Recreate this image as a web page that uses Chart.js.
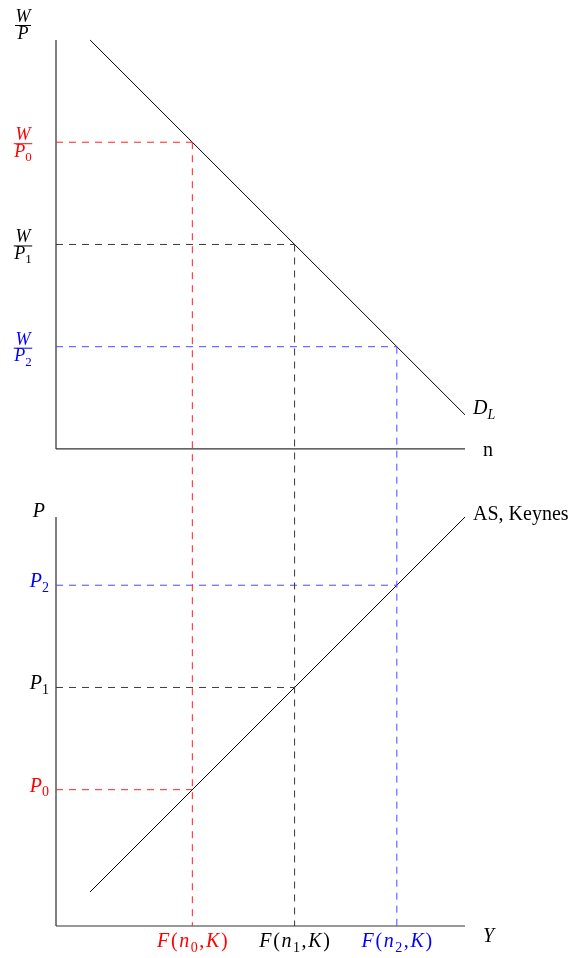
<!DOCTYPE html>
<html>
<head>
<meta charset="utf-8">
<title>Labour market and Keynesian AS</title>
<script src="https://cdn.jsdelivr.net/npm/chart.js@4.4.1/dist/chart.umd.min.js"></script>
<style>
  html, body { margin: 0; padding: 0; background: #ffffff; }
  #wrap { position: relative; width: 574px; height: 958px; }
</style>
</head>
<body>
<div id="wrap"><canvas id="diagram" width="574" height="958"></canvas></div>
<script>
// Employment levels n0, n1, n2 (shared x axis of both panels)
const employment = [4, 7, 10];
const realWage = [9, 6, 3];
// Price levels P_i on the aggregate supply curve
const priceLevel = [4, 7, 10];
// Subscripts used in the labels
const subscripts = ['0', '1', '2'];

// Labour demand D_L and Keynesian AS endpoints
const demandLine = [{ x: 1, y: 12 }, { x: 12, y: 1 }];
const supplyLine = [{ x: 1, y: 1 }, { x: 12, y: 12 }];

// axis extents
const AXIS_MAX = 12;
const TOP_MIN = -14;   // top panel scale reaches down to the lower x axis
const BOT_MAX = 26;

const tones = ['#ff2020', '#3a3a3a', '#4a4aff'];
const labelTones = ['#ff0000', '#000000', '#0000ff'];
const FONT = '"Liberation Serif", "Times New Roman", serif';

function segment(points, axis, color, dashed) {
  return {
    data: points,
    yAxisID: axis,
    showLine: true,
    borderColor: color,
    borderWidth: 1,
    borderDash: dashed ? [7, 6] : [],
    pointRadius: 0,
    fill: false,
    clip: false
  };
}

const datasets = [];
employment.forEach((n, i) => {
  // W/P_i across to the demand curve, then straight down to the Y axis
  datasets.push(segment([{ x: 0, y: realWage[i] }, { x: n, y: realWage[i] }], 'yTop', tones[i], true));
  datasets.push(segment([{ x: n, y: realWage[i] }, { x: n, y: TOP_MIN }], 'yTop', tones[i], true));
  // P_i across to the AS curve
  datasets.push(segment([{ x: 0, y: priceLevel[i] }, { x: n, y: priceLevel[i] }], 'yBot', tones[i], true));
});
datasets.push(segment(demandLine, 'yTop', '#000000', false));
datasets.push(segment(supplyLine, 'yBot', '#000000', false));

// draws a run of pieces: [text, style] with style 'i' italic, 'r' roman,
// 's' roman subscript, 'si' italic subscript; gap adds math-like spacing
function pieceFont(style, size) {
  const sub = style[0] === 's';
  const italic = style.indexOf('i') >= 0;
  return (italic ? 'italic ' : '') + Math.round(sub ? size * 0.72 : size) + 'px ' + FONT;
}
function runWidth(ctx, parts, size, gap) {
  let w = 0;
  parts.forEach(([t, s]) => {
    ctx.font = pieceFont(s, size);
    w += ctx.measureText(t).width;
  });
  return w + gap * (parts.length - 1);
}
function drawRun(ctx, parts, x, y, size, color, align, gap = 0) {
  const w = runWidth(ctx, parts, size, gap);
  let cx = align === 'center' ? x - w / 2 : align === 'right' ? x - w : x;
  ctx.fillStyle = color;
  ctx.textBaseline = 'alphabetic';
  ctx.textAlign = 'left';
  parts.forEach(([t, s]) => {
    ctx.font = pieceFont(s, size);
    const dy = s[0] === 's' ? size * 0.24 : 0;
    ctx.fillText(t, cx, y + dy);
    cx += ctx.measureText(t).width + gap;
  });
}
function drawFrac(ctx, num, den, cx, barY, size, color) {
  const w = Math.max(runWidth(ctx, num, size, 0), runWidth(ctx, den, size, 0)) + 1;
  ctx.strokeStyle = color;
  ctx.lineWidth = 1;
  ctx.beginPath();
  ctx.moveTo(cx - w / 2, barY + 0.5);
  ctx.lineTo(cx + w / 2, barY + 0.5);
  ctx.stroke();
  drawRun(ctx, num, cx, barY - 3, size, color, 'center');
  drawRun(ctx, den, cx, barY + size * 0.76, size, color, 'center');
}

const axesAndLabels = {
  id: 'axesAndLabels',
  beforeDatasetsDraw(chart) {
    const { ctx } = chart;
    const x = chart.scales.x, yt = chart.scales.yTop, yb = chart.scales.yBot;
    ctx.save();
    // vertical axes in grey
    ctx.strokeStyle = '#808080';
    ctx.lineWidth = 2;
    ctx.beginPath();
    ctx.moveTo(x.getPixelForValue(0), yt.getPixelForValue(0));
    ctx.lineTo(x.getPixelForValue(0), yt.getPixelForValue(AXIS_MAX));
    ctx.moveTo(x.getPixelForValue(0), yb.getPixelForValue(0));
    ctx.lineTo(x.getPixelForValue(0), yb.getPixelForValue(AXIS_MAX));
    ctx.stroke();
    // horizontal axes
    ctx.strokeStyle = '#333333';
    ctx.lineWidth = 1.2;
    ctx.beginPath();
    ctx.moveTo(x.getPixelForValue(0), yt.getPixelForValue(0));
    ctx.lineTo(x.getPixelForValue(AXIS_MAX), yt.getPixelForValue(0));
    ctx.moveTo(x.getPixelForValue(0), yb.getPixelForValue(0));
    ctx.lineTo(x.getPixelForValue(AXIS_MAX), yb.getPixelForValue(0));
    ctx.stroke();
    ctx.restore();
  },
  afterDatasetsDraw(chart) {
    const { ctx } = chart;
    const x = chart.scales.x, yt = chart.scales.yTop, yb = chart.scales.yBot;
    const big = 20, small = 18;
    ctx.save();
    const xEnd = x.getPixelForValue(AXIS_MAX);

    // top panel: W/P axis title and wage levels
    drawFrac(ctx, [['W', 'i']], [['P', 'i']], 23, yt.getPixelForValue(AXIS_MAX) - 15, small, '#000000');
    realWage.forEach((w, i) => {
      drawFrac(ctx, [['W', 'i']], [['P', 'i'], [subscripts[i], 's']], 23,
        yt.getPixelForValue(w) + 1, small, labelTones[i]);
    });
    drawRun(ctx, [['n', 'r']], xEnd + 18, yt.getPixelForValue(0) + 7, big, '#000000', 'left');
    const dEnd = demandLine[demandLine.length - 1];
    drawRun(ctx, [['D', 'i'], ['L', 'si']], x.getPixelForValue(dEnd.x) + 8, yt.getPixelForValue(dEnd.y) - 1, big, '#000000', 'left');

    // bottom panel: P axis title and price levels
    drawRun(ctx, [['P', 'i']], 45, yb.getPixelForValue(AXIS_MAX), big, '#000000', 'right');
    priceLevel.forEach((p, i) => {
      drawRun(ctx, [['P', 'i'], [subscripts[i], 's']], 49, yb.getPixelForValue(p) + 2, big, labelTones[i], 'right');
    });
    const sEnd = supplyLine[supplyLine.length - 1];
    drawRun(ctx, [['AS, Keynes', 'r']], x.getPixelForValue(sEnd.x) + 8, yb.getPixelForValue(sEnd.y) + 3, big, '#000000', 'left');

    // output levels under the Y axis
    employment.forEach((n, i) => {
      drawRun(ctx, [['F', 'i'], ['(', 'r'], ['n', 'i'], [subscripts[i], 's'], [',', 'r'], ['K', 'i'], [')', 'r']],
        x.getPixelForValue(n), yb.getPixelForValue(0) + 21, big, labelTones[i], 'center', 1.6);
    });
    drawRun(ctx, [['Y', 'i']], xEnd + 18, yb.getPixelForValue(0) + 16, big, '#000000', 'left');
    ctx.restore();
  }
};

new Chart(document.getElementById('diagram').getContext('2d'), {
  type: 'scatter',
  data: { datasets },
  options: {
    responsive: false,
    animation: false,
    events: [],
    layout: { padding: { left: 56, right: 109, top: 40, bottom: 32 } },
    plugins: { legend: { display: false }, tooltip: { enabled: false } },
    scales: {
      x: { type: 'linear', min: 0, max: AXIS_MAX, display: false },
      yTop: { type: 'linear', position: 'left', min: TOP_MIN, max: AXIS_MAX, display: false },
      yBot: { type: 'linear', position: 'left', min: 0, max: BOT_MAX, display: false }
    }
  },
  plugins: [axesAndLabels]
});
</script>
</body>
</html>
